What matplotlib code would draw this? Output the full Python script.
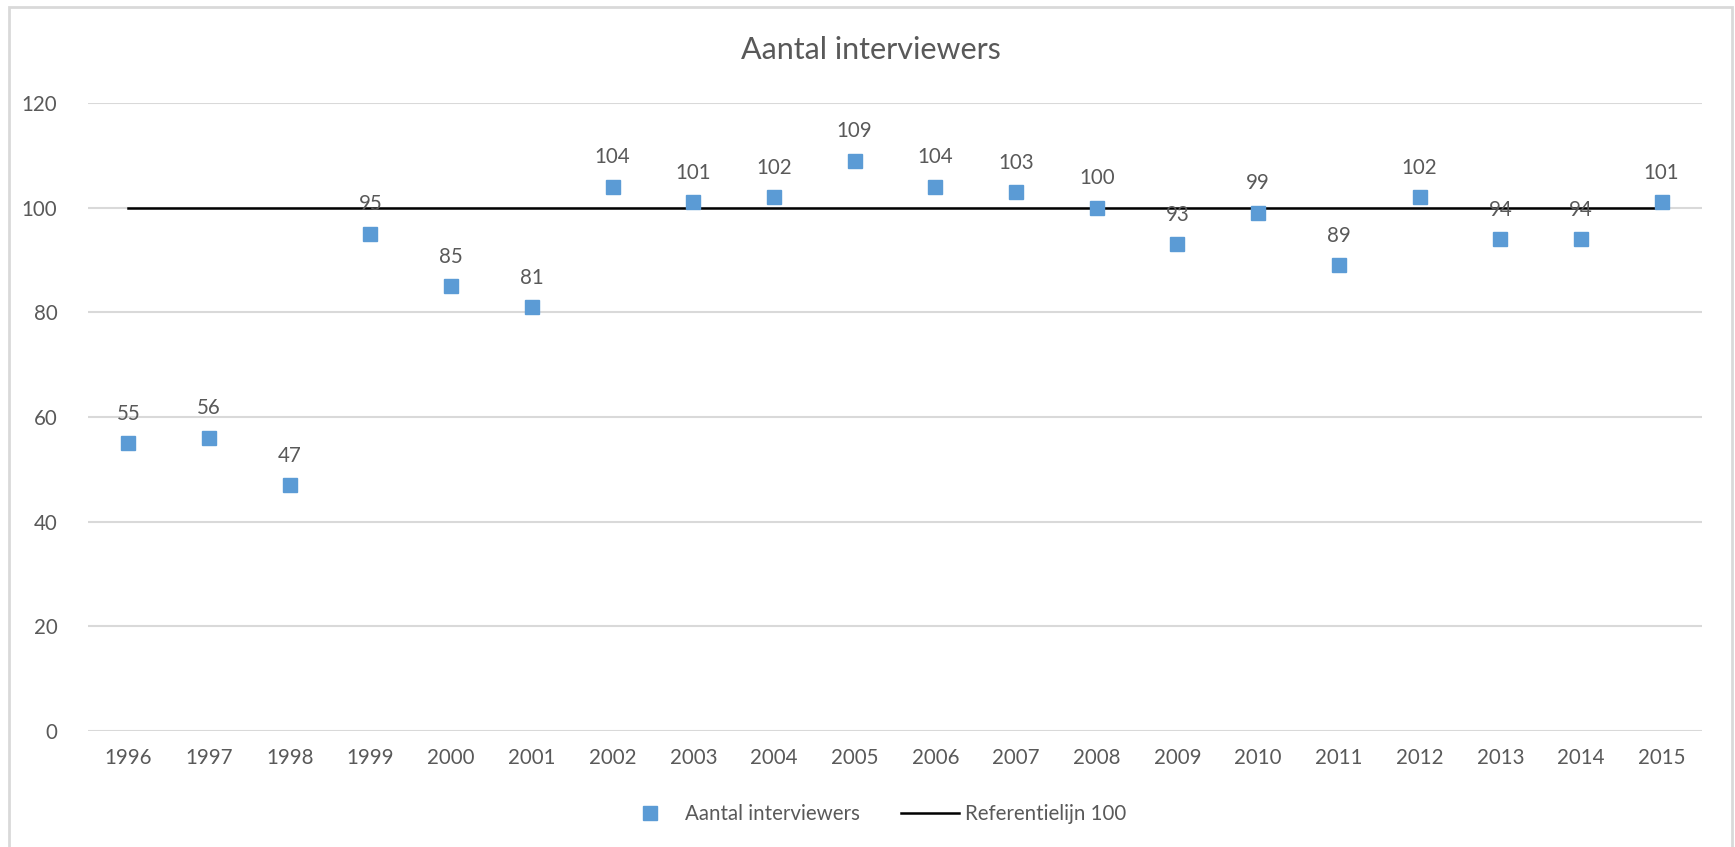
import matplotlib
matplotlib.use("Agg")
import matplotlib.pyplot as plt
from matplotlib.patches import Rectangle
from matplotlib.lines import Line2D

plt.rcParams['font.family'] = ['Lato', 'DejaVu Sans']

jaren = ['1996', '1997', '1998', '1999', '2000', '2001', '2002', '2003', '2004', '2005',
         '2006', '2007', '2008', '2009', '2010', '2011', '2012', '2013', '2014', '2015']
aantal = [55, 56, 47, 95, 85, 81, 104, 101, 102, 109,
          104, 103, 100, 93, 99, 89, 102, 94, 94, 101]
referentie = [100] * len(jaren)
y_ticks = [0, 20, 40, 60, 80, 100, 120]

grijs = '#595959'
blauw = '#5B9BD5'

fig = plt.figure(figsize=(17.35, 8.47), dpi=100)
ax = fig.add_axes([88 / 1735, 1 - 731 / 847, (1702 - 88) / 1735, (731 - 103) / 847])

# chart border
fig.patches.append(Rectangle((9 / 1735, -0.05), (1732 - 9) / 1735, 1.05 - 7 / 847,
                             transform=fig.transFigure, fill=False,
                             edgecolor='#D9D9D9', linewidth=2))

x = list(range(len(jaren)))
ax.plot(x, referentie, color='black', linewidth=1.8, zorder=2)
ax.plot(x, aantal, linestyle='none', marker='s', markersize=10.5,
        color=blauw, zorder=3)

for xi, v in zip(x, aantal):
    ax.annotate(str(v), (xi, v), xytext=(0, 14), textcoords='offset points',
                ha='center', va='bottom', fontsize=14.8, color=grijs)

ax.set_xlim(-0.5, len(jaren) - 0.5)
ax.set_ylim(0, 120)
ax.set_yticks(y_ticks)
ax.set_xticks(x)
ax.set_xticklabels(jaren)
ax.tick_params(length=0, labelsize=14.8, labelcolor=grijs)
ax.tick_params(axis='y', pad=22)
ax.tick_params(axis='x', pad=12)
ax.grid(axis='y', color='#D9D9D9', linewidth=1.5)
ax.set_axisbelow(True)
for s in ax.spines.values():
    s.set_visible(False)

fig.text(871 / 1735, 1 - 50 / 847, 'Aantal interviewers', ha='center', va='center',
         fontsize=22, color=grijs)

handles = [Line2D([], [], linestyle='none', marker='s', markersize=10.5, color=blauw),
           Line2D([], [], color='black', linewidth=1.8)]
fig.legend(handles, ['Aantal interviewers', 'Referentielijn 100'],
           loc='center', bbox_to_anchor=(874 / 1735, 1 - 814 / 847), ncol=2,
           frameon=False, fontsize=14.8, labelcolor=grijs, columnspacing=2.0,
           handlelength=2.8, handletextpad=0.3)

fig.savefig('out.png', dpi=100)
